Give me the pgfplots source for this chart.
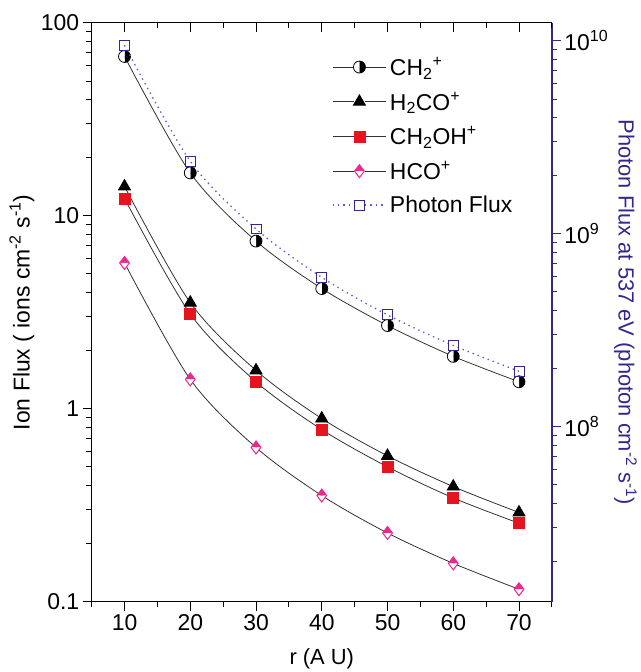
\documentclass[border=0pt]{standalone}
\usepackage{pgfplots}
\pgfplotsset{compat=1.18}
\usepackage{fontspec}
\setmainfont{Liberation Sans}
\usetikzlibrary{plotmarks}
\definecolor{pblue}{RGB}{50,40,140}
\definecolor{pdot}{RGB}{90,90,210}
\definecolor{sqred}{RGB}{230,20,30}
\definecolor{hpink}{RGB}{235,40,140}
\definecolor{lgray}{RGB}{50,50,50}
\pgfplotsset{
  common/.style={
    scale only axis, width=462pt, height=581pt,
    xmin=5, xmax=75,
    /pgf/number format/assume math mode=true,
    tick label style={font=\fontsize{23}{23}\selectfont},
    label style={font=\fontsize{22}{24}\selectfont},
    major tick length=9pt, minor tick length=5.5pt,
  },
  myleg/.style={legend image code/.code={%
    \draw[##1] (0cm,0cm) -- (0.75cm,0cm);
    \draw[##1] (1.15cm,0cm) -- (1.9cm,0cm);
    \draw[##1,mark repeat=1] plot coordinates {(0.95cm,0cm)};}},
}
\begin{document}
\begin{tikzpicture}
\begin{axis}[common, name=main,
  ymode=log, ymin=0.1, ymax=100,
  xtick={10,20,...,70}, minor xtick={5,15,...,75},
  xtick pos=bottom, ytick pos=left, tick align=outside,
  ytick={0.1,1,10,100}, yticklabels={0.1,1,10,100},
  minor ytick={0.2,0.3,0.4,0.5,0.6,0.7,0.8,0.9,2,3,4,5,6,7,8,9,20,30,40,50,60,70,80,90},
  xlabel={r (A U)},
  xlabel style={at={(axis description cs:0.5,0)}, anchor=center, yshift=-57pt},
  ylabel={Ion Flux ( ions cm\textsuperscript{-2} s\textsuperscript{-1})},
  ylabel style={at={(axis description cs:-0.1515,0.5)}, anchor=center, font=\fontsize{23}{25}\selectfont},
  axis line style={line width=1pt},
  every tick/.style={line width=0.9pt, black},
  legend style={at={(0.515,0.948)}, anchor=north west, draw=none, fill=none,
    font=\fontsize{23}{25}\selectfont, row sep=11pt, legend cell align=left,
    nodes={inner xsep=3pt}},
  myleg,
]
\addplot[lgray, line width=0.8pt, smooth, mark=halfcircle*, mark size=6pt,
  mark options={rotate=-90, draw=black, fill=black, solid}]
  coordinates {(10,67) (20,16.7) (30,7.4) (40,4.2) (50,2.7) (60,1.87) (70,1.38)};
\addlegendentry{CH\textsubscript{2}\textsuperscript{+}}
\addplot[lgray, line width=0.8pt, smooth, mark=triangle*, mark size=7pt,
  mark options={draw=black, fill=black, solid}]
  coordinates {(10,14.2) (20,3.55) (30,1.58) (40,0.89) (50,0.57) (60,0.395) (70,0.29)};
\addlegendentry{H\textsubscript{2}CO\textsuperscript{+}}
\addplot[lgray, line width=0.8pt, smooth, mark=square*, mark size=5.5pt,
  mark options={draw=sqred, fill=sqred, solid}]
  coordinates {(10,12.3) (20,3.1) (30,1.38) (40,0.78) (50,0.5) (60,0.345) (70,0.255)};
\addlegendentry{CH\textsubscript{2}OH\textsuperscript{+}}
\addplot[lgray, line width=0.8pt, smooth, mark=halfdiamond*, mark size=6.5pt,
  mark options={rotate=180, draw=hpink, fill=hpink, solid, line width=1pt}]
  coordinates {(10,5.7) (20,1.42) (30,0.63) (40,0.355) (50,0.227) (60,0.158) (70,0.116)};
\addlegendentry{HCO\textsuperscript{+}}
\addlegendimage{pdot, dash pattern=on 1.4pt off 4pt, line width=1.3pt, mark=square, mark size=5pt,
  mark options={draw=pblue, solid, line width=0.9pt}}
\addlegendentry{Photon Flux}
\end{axis}
\begin{axis}[common,
  ymode=log, ymin=1.24e7, ymax=1.24e10,
  axis x line=none, axis y line*=right, tick align=outside,
  ytick={1e8,1e9,1e10},
  yticklabels={10\textsuperscript{8},10\textsuperscript{9},10\textsuperscript{10}},
  minor ytick={2e7,3e7,4e7,5e7,6e7,7e7,8e7,9e7,2e8,3e8,4e8,5e8,6e8,7e8,8e8,9e8,2e9,3e9,4e9,5e9,6e9,7e9,8e9,9e9},
  axis line style={line width=1.4pt, pblue},
  every tick/.style={line width=0.9pt, pblue},
  ylabel={Photon Flux at 537 eV (photon cm\textsuperscript{-2} s\textsuperscript{-1})},
  ylabel style={at={(axis description cs:1.16,0.5)}, anchor=center, rotate=180, pblue},
  yticklabel style={black},
]
\addplot[pdot, dash pattern=on 1.4pt off 4pt, line width=1.3pt, smooth, mark=square, mark size=5pt,
  mark options={draw=pblue, solid, line width=0.9pt}]
  coordinates {(10,9.5e9) (20,2.38e9) (30,1.06e9) (40,5.95e8) (50,3.8e8) (60,2.64e8) (70,1.94e8)};
\end{axis}
\begin{axis}[common,
  ymin=0, ymax=1, hide y axis,
  axis x line*=top, tick align=inside,
  xtick={10,20,...,70}, minor xtick={5,15,...,75}, xticklabels={},
  axis line style={line width=1pt},
  every tick/.style={line width=0.9pt, black},
]
\end{axis}
\path (main.south west) ++(-92pt,-68pt);
\path (main.north east) ++(88pt,23pt);
\end{tikzpicture}
\end{document}
